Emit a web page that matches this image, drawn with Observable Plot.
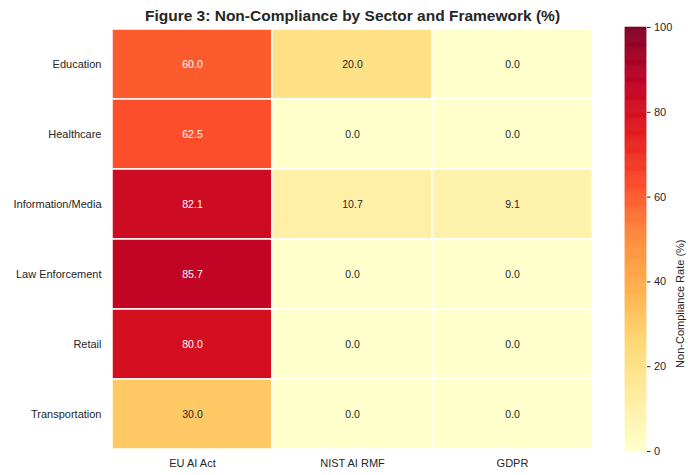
<!DOCTYPE html>
<html>
<head>
<meta charset="utf-8">
<script src="https://cdn.jsdelivr.net/npm/d3@7"></script>
<script src="https://cdn.jsdelivr.net/npm/@observablehq/plot@0.6"></script>
<style>
  html, body { margin: 0; padding: 0; background: white; }
  #wrap { position: relative; width: 688px; height: 475px; }
  #wrap svg { position: absolute; top: 0; }
</style>
</head>
<body>
<div id="wrap"></div>
<script>
const title = "Figure 3: Non-Compliance by Sector and Framework (%)";
const sectors = ["Education", "Healthcare", "Information/Media", "Law Enforcement", "Retail", "Transportation"];
const frameworks = ["EU AI Act", "NIST AI RMF", "GDPR"];
const euAiAct  = [60.0, 62.5, 82.1, 85.7, 80.0, 30.0];
const nistAiRmf = [20.0, 0.0, 10.7, 0.0, 0.0, 0.0];
const gdpr     = [0.0, 0.0, 9.1, 0.0, 0.0, 0.0];
const colorbarTicks = [0, 20, 40, 60, 80, 100];
const colorbarLabel = "Non-Compliance Rate (%)";
const ylorrd = ["#ffffcc","#ffeda0","#fed976","#feb24c","#fd8d3c","#fc4e2a","#e31a1c","#bd0026","#800026"];

const series = [euAiAct, nistAiRmf, gdpr];
const data = [];
sectors.forEach((s, i) => frameworks.forEach((f, j) => data.push({sector: s, framework: f, value: series[j][i]})));

const cmap = d3.scaleLinear()
  .domain(ylorrd.map((_, i) => i * 100 / (ylorrd.length - 1)))
  .range(ylorrd)
  .interpolate(d3.interpolateRgb);
const colorScale = {type: "linear", domain: [0, 100], interpolate: t => cmap(t * 100)};

const font = "'Liberation Sans', Arial, Helvetica, sans-serif";
const ink = "#262626";

const main = Plot.plot({
  width: 688,
  height: 475,
  marginLeft: 111,
  marginRight: 95,
  marginTop: 28,
  marginBottom: 25,
  style: {fontFamily: font, fontSize: "11px", color: ink, background: "white"},
  x: {type: "band", domain: frameworks, padding: 0, label: null, tickSize: 0, tickPadding: 9},
  y: {type: "band", domain: sectors, padding: 0, label: null, tickSize: 0, tickPadding: 10},
  color: colorScale,
  marks: [
    Plot.cell(data, {x: "framework", y: "sector", fill: "value", stroke: "white", strokeWidth: 1.5}),
    Plot.text(data.filter(d => d.value > 50), {x: "framework", y: "sector", text: d => d.value.toFixed(1), fill: "white", fontSize: 10.5}),
    Plot.text(data.filter(d => d.value <= 50), {x: "framework", y: "sector", text: d => d.value.toFixed(1), fill: ink, fontSize: 10.5}),
    Plot.text([title], {frameAnchor: "top", dy: -8, lineAnchor: "bottom", fontSize: 15.5, fontWeight: "bold", fill: ink})
  ]
});
main.style.left = "0px";

const steps = d3.range(0, 100, 0.25);
const bar = Plot.plot({
  width: 88,
  height: 475,
  marginLeft: 25,
  marginRight: 42,
  marginTop: 27,
  marginBottom: 24,
  style: {fontFamily: font, fontSize: "11px", color: ink, background: "transparent"},
  x: {domain: [0, 1], axis: null},
  y: {domain: [0, 100], axis: "right", ticks: colorbarTicks, tickSize: 3.5, tickPadding: 4, label: null},
  color: colorScale,
  marks: [
    Plot.rect(steps, {x1: 0, x2: 1, y1: d => d, y2: d => d + 0.25, fill: d => d + 0.125, stroke: d => d + 0.125, strokeWidth: 0.6}),
    Plot.text([colorbarLabel], {frameAnchor: "right", dx: 34, rotate: -90, fill: ink, fontSize: 11})
  ]
});
bar.style.left = "600px";

const wrap = document.getElementById("wrap");
wrap.appendChild(main);
wrap.appendChild(bar);
</script>
</body>
</html>
